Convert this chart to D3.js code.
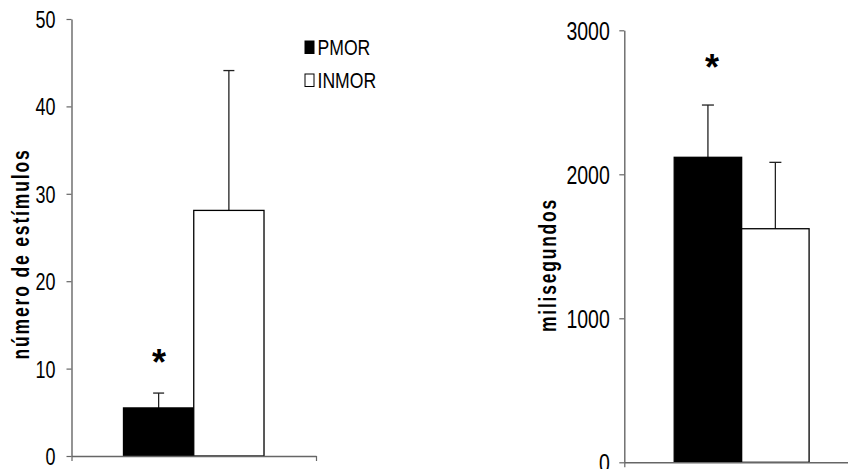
<!DOCTYPE html>
<html>
<head>
<meta charset="utf-8">
<script src="https://cdn.jsdelivr.net/npm/d3@7"></script>
<style>
  html, body { margin: 0; padding: 0; background: #fff; }
  svg { display: block; }
  text { font-family: "Liberation Sans", Arial, sans-serif; fill: #000; }
</style>
</head>
<body>
<svg id="chart" width="848" height="469"></svg>
<script>
// Groups (one category per panel, two series)
const series = ["PMOR", "INMOR"];
const seriesFill = ["#000000", "#ffffff"];

// Panel A: number of stimuli
const stimMean = [5.5, 28.1];
const stimSD = [1.7, 16.0];
const stimTicks = [0, 10, 20, 30, 40, 50];
const stimLabel = "número de estímulos";
const stimSignif = [true, false];

// Panel B: milliseconds
const msMean = [2118, 1622];
const msSD = [363, 461];
const msTicks = [0, 1000, 2000, 3000];
const msLabel = "milisegundos";
const msSignif = [true, false];

const svg = d3.select("#chart");

function panel(cfg) {
  const g = svg.append("g");
  const y = d3.scaleLinear().domain(cfg.domain).range([cfg.y0, cfg.y1]);
  const xLine = d3.scaleLinear().domain([0, 1]).range([cfg.x0, cfg.x1]);
  const x0 = d3.scaleBand().domain(["g"]).range([cfg.x0, cfg.x1])
      .paddingInner(0).paddingOuter(0.37);
  const x1 = d3.scaleBand().domain(series).range([0, x0.bandwidth()]).padding(0);

  // bars with upper error bars
  const bars = g.append("g");
  series.forEach((s, i) => {
    const left = x0("g") + x1(s);
    const cx = left + x1.bandwidth() / 2;
    const top = y(cfg.mean[i]);
    const errTop = y(cfg.mean[i] + cfg.sd[i]);
    bars.append("line")
      .attr("x1", cx).attr("x2", cx)
      .attr("y1", top).attr("y2", errTop)
      .attr("stroke", "#222").attr("stroke-width", 1.3);
    bars.append("line")
      .attr("x1", cx - cfg.cap / 2).attr("x2", cx + cfg.cap / 2)
      .attr("y1", errTop).attr("y2", errTop)
      .attr("stroke", "#222").attr("stroke-width", 1.3);
    bars.append("rect")
      .attr("x", left).attr("y", top)
      .attr("width", x1.bandwidth()).attr("height", y(0) - top)
      .attr("fill", seriesFill[i])
      .attr("stroke", "#000").attr("stroke-width", 1.3);
    if (cfg.signif[i]) {
      g.append("text")
        .attr("x", cx + cfg.starDx)
        .attr("y", errTop - cfg.starGap)
        .attr("text-anchor", "middle")
        .style("font-size", "36px").style("font-weight", "bold")
        .text("*");
    }
  });

  // y axis
  const ya = g.append("g")
    .attr("transform", `translate(${cfg.x0},0)`)
    .call(d3.axisLeft(y).tickValues(cfg.ticks).tickFormat(d3.format("d"))
      .tickSizeInner(5).tickSizeOuter(0));
  ya.select(".domain").attr("stroke", "#666").attr("stroke-width", 1.4);
  ya.selectAll(".tick line").attr("stroke", "#666").attr("stroke-width", 1.2);
  ya.selectAll(".tick text")
    .attr("x", 0).attr("dy", "0.37em")
    .attr("transform", `translate(${-cfg.labelGap},0) scale(0.78,1)`)
    .style("font-size", cfg.tickFont + "px")
    .style("font-family", "'Liberation Sans', Arial, sans-serif")
    .attr("fill", "#000");

  // x axis (category boundaries only)
  const xa = g.append("g")
    .attr("transform", `translate(0,${cfg.y0})`)
    .call(d3.axisBottom(xLine).tickValues([0, 1]).tickFormat("")
      .tickSizeInner(5).tickSizeOuter(0));
  xa.select(".domain").attr("stroke", "#666").attr("stroke-width", 1.4);
  xa.selectAll(".tick line").attr("stroke", "#666").attr("stroke-width", 1.2);

  // axis title
  g.append("text")
    .attr("transform", `translate(${cfg.titleX},${cfg.titleY}) rotate(-90)`)
    .attr("text-anchor", "middle")
    .attr("textLength", cfg.titleLen)
    .attr("lengthAdjust", "spacingAndGlyphs")
    .style("font-size", "24px").style("font-weight", "bold")
    .style("letter-spacing", "2.5px")
    .text(cfg.title);
}

panel({
  domain: [0, 50], y0: 456, y1: 19, x0: 71.5, x1: 316,
  mean: stimMean, sd: stimSD, ticks: stimTicks, signif: stimSignif,
  cap: 11, starDx: 0.5, starGap: 18, tickFont: 23, labelGap: 16,
  title: stimLabel, titleX: 29, titleY: 254, titleLen: 211
});

panel({
  domain: [0, 3000], y0: 462.3, y1: 30.3, x0: 624.3, x1: 859,
  mean: msMean, sd: msSD, ticks: msTicks, signif: msSignif,
  cap: 12, starDx: 4, starGap: 25, tickFont: 25, labelGap: 14.5,
  title: msLabel, titleX: 556, titleY: 265, titleLen: 134
});

// legend
const legend = svg.append("g");
series.forEach((s, i) => {
  const row = legend.append("g").attr("transform", `translate(305,${41 + i * 33})`);
  row.append("rect")
    .attr("x", 0).attr("y", 0).attr("width", 9).attr("height", 12.5)
    .attr("fill", seriesFill[i]).attr("stroke", "#000").attr("stroke-width", 1);
  row.append("text")
    .attr("transform", "translate(12.5,14) scale(0.8,1)")
    .style("font-size", "22px")
    .text(s);
});
</script>
</body>
</html>
